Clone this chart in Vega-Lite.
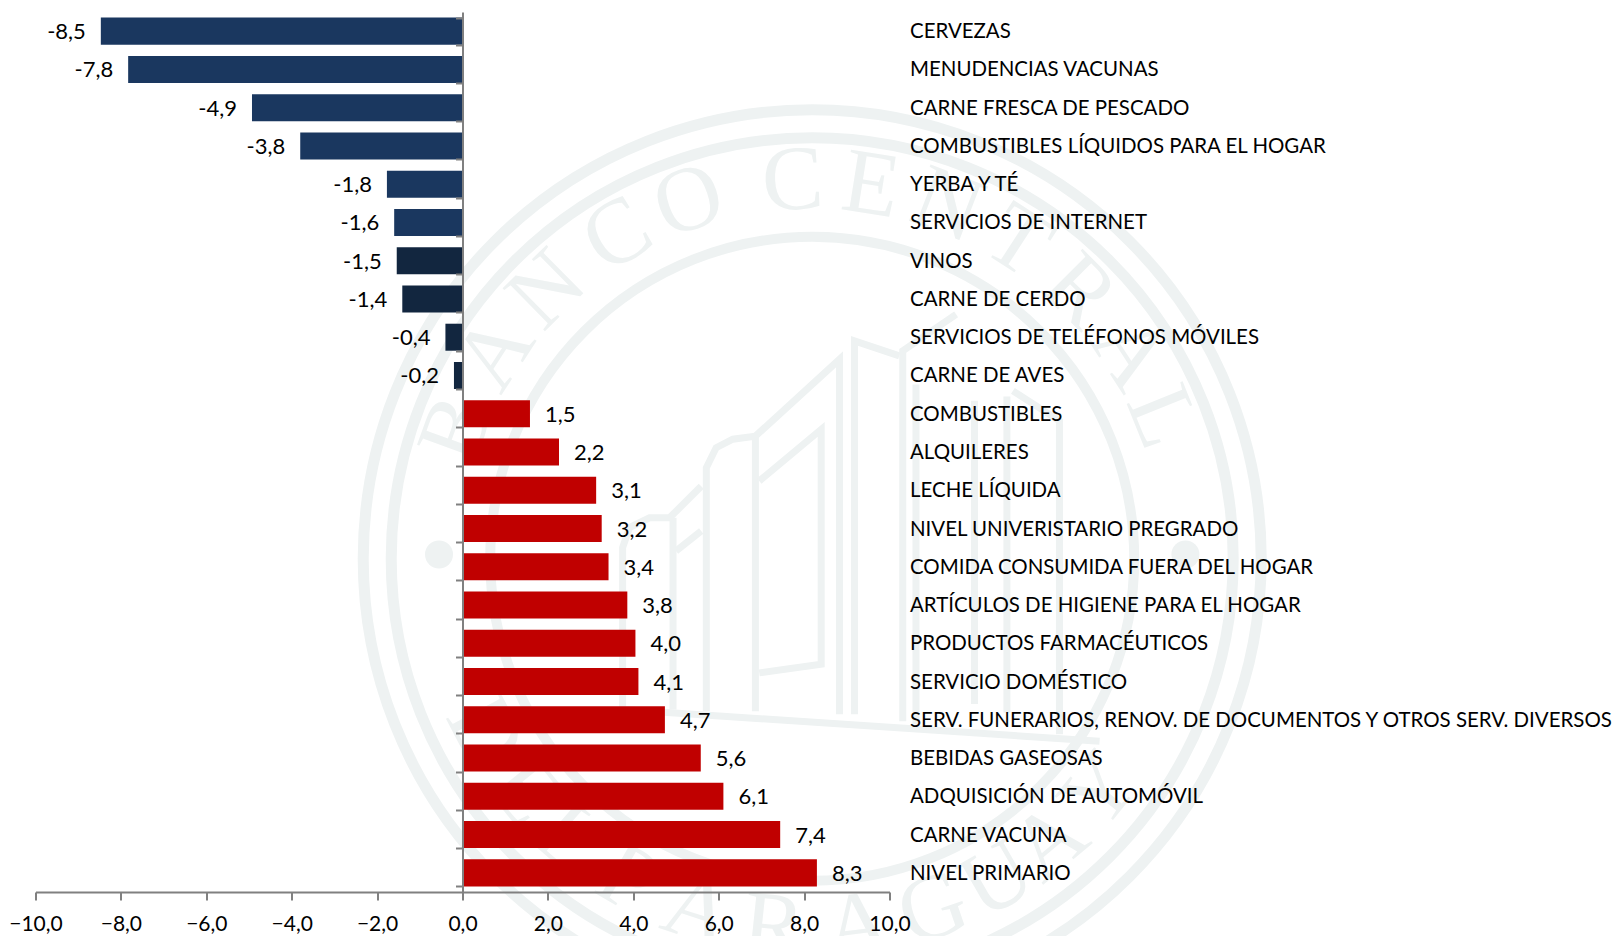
{
"$schema":"https://vega.github.io/schema/vega-lite/v6.json",
"autosize":{"type":"none"},
"padding":{"left":35.5,"top":12,"right":725.5,"bottom":44},
"width":854,"height":880,
"background":"#ffffff",
"config":{"view":{"stroke":null},"font":"Lato"},
"datasets":{
"items":[
{"cat":"CERVEZAS","v":-8.47,"t":"-8,5","g":"a"},
{"cat":"MENUDENCIAS VACUNAS","v":-7.83,"t":"-7,8","g":"a"},
{"cat":"CARNE FRESCA DE PESCADO","v":-4.93,"t":"-4,9","g":"a"},
{"cat":"COMBUSTIBLES LÍQUIDOS PARA EL HOGAR","v":-3.8,"t":"-3,8","g":"a"},
{"cat":"YERBA Y TÉ","v":-1.77,"t":"-1,8","g":"a"},
{"cat":"SERVICIOS DE INTERNET","v":-1.6,"t":"-1,6","g":"a"},
{"cat":"VINOS","v":-1.54,"t":"-1,5","g":"b"},
{"cat":"CARNE DE CERDO","v":-1.41,"t":"-1,4","g":"b"},
{"cat":"SERVICIOS DE TELÉFONOS MÓVILES","v":-0.4,"t":"-0,4","g":"b"},
{"cat":"CARNE DE AVES","v":-0.2,"t":"-0,2","g":"b"},
{"cat":"COMBUSTIBLES","v":1.58,"t":"1,5","g":"c"},
{"cat":"ALQUILERES","v":2.26,"t":"2,2","g":"c"},
{"cat":"LECHE LÍQUIDA","v":3.13,"t":"3,1","g":"c"},
{"cat":"NIVEL UNIVERISTARIO PREGRADO","v":3.26,"t":"3,2","g":"c"},
{"cat":"COMIDA CONSUMIDA FUERA DEL HOGAR","v":3.42,"t":"3,4","g":"c"},
{"cat":"ARTÍCULOS DE HIGIENE PARA EL HOGAR","v":3.86,"t":"3,8","g":"c"},
{"cat":"PRODUCTOS FARMACÉUTICOS","v":4.05,"t":"4,0","g":"c"},
{"cat":"SERVICIO DOMÉSTICO","v":4.12,"t":"4,1","g":"c"},
{"cat":"SERV. FUNERARIOS, RENOV. DE DOCUMENTOS Y OTROS SERV. DIVERSOS","v":4.74,"t":"4,7","g":"c"},
{"cat":"BEBIDAS GASEOSAS","v":5.58,"t":"5,6","g":"c"},
{"cat":"ADQUISICIÓN DE AUTOMÓVIL","v":6.11,"t":"6,1","g":"c"},
{"cat":"CARNE VACUNA","v":7.44,"t":"7,4","g":"c"},
{"cat":"NIVEL PRIMARIO","v":8.3,"t":"8,3","g":"c"}
],
"sello":[{"x":8.19,"y":-2.5}],
"puntos":[{"x":-0.55,"y":-2.4},{"x":16.93,"y":-2.4}],
"letras":[
{"l":"B","x":-0.13,"y":0.53,"a":-70},{"l":"A","x":0.77,"y":2.32,"a":-57},{"l":"N","x":1.98,"y":3.8,"a":-44.6},{"l":"C","x":3.63,"y":5.08,"a":-31},{"l":"O","x":5.3,"y":5.87,"a":-19},
{"l":"C","x":7.73,"y":6.34,"a":-3},{"l":"E","x":9.57,"y":6.24,"a":9},{"l":"N","x":11.36,"y":5.77,"a":21},{"l":"T","x":13.01,"y":4.93,"a":33},{"l":"R","x":14.45,"y":3.76,"a":45},{"l":"A","x":15.62,"y":2.32,"a":57},{"l":"L","x":16.39,"y":0.82,"a":68},
{"l":"D","x":0.53,"y":-6.57,"a":62},{"l":"E","x":1.45,"y":-7.95,"a":51},{"l":"L","x":2.5,"y":-9.05,"a":41},
{"l":"P","x":3.86,"y":-10.01,"a":30},{"l":"A","x":5.51,"y":-10.75,"a":18},{"l":"R","x":7.28,"y":-11.13,"a":6},{"l":"A","x":9.25,"y":-11.11,"a":-7},{"l":"G","x":11.02,"y":-10.7,"a":-19},{"l":"U","x":12.53,"y":-10.01,"a":-30},{"l":"A","x":13.76,"y":-9.14,"a":-40},{"l":"Y","x":14.93,"y":-7.95,"a":-51}
],
"edificio":[
{"k":1,"o":1,"x":5.71,"y":-6.07},{"k":1,"o":2,"x":5.71,"y":-0.37},{"k":1,"o":3,"x":5.94,"y":0.1},{"k":1,"o":4,"x":6.33,"y":0.3},{"k":1,"o":5,"x":6.86,"y":0.37},{"k":1,"o":6,"x":8.83,"y":2.17},{"k":1,"o":7,"x":8.83,"y":-6.14},
{"k":2,"o":1,"x":6.86,"y":0.37},{"k":2,"o":2,"x":6.86,"y":-6.07},
{"k":3,"o":1,"x":6.95,"y":-0.68},{"k":3,"o":2,"x":8.4,"y":0.53},{"k":3,"o":3,"x":8.4,"y":-4.97},{"k":3,"o":4,"x":6.95,"y":-5.17},
{"k":4,"o":1,"x":3.75,"y":-5.99},{"k":4,"o":2,"x":3.75,"y":-2.24},{"k":4,"o":3,"x":3.91,"y":-1.77},{"k":4,"o":4,"x":4.38,"y":-1.54},{"k":4,"o":5,"x":4.85,"y":-1.54},{"k":4,"o":6,"x":5.59,"y":-0.8},
{"k":5,"o":1,"x":4.93,"y":-1.54},{"k":5,"o":2,"x":4.93,"y":-6.03},
{"k":6,"o":1,"x":5.0,"y":-2.32},{"k":6,"o":2,"x":5.59,"y":-1.85},
{"k":7,"o":1,"x":3.75,"y":-6.03},{"k":7,"o":2,"x":14.92,"y":-6.77},
{"k":8,"o":1,"x":9.18,"y":-6.14},{"k":8,"o":2,"x":9.18,"y":2.6},{"k":8,"o":3,"x":10.23,"y":2.25},
{"k":9,"o":1,"x":10.31,"y":-6.3},{"k":9,"o":2,"x":10.31,"y":2.37},{"k":9,"o":3,"x":11.56,"y":3.22},
{"k":10,"o":1,"x":10.62,"y":-6.38},{"k":10,"o":2,"x":10.62,"y":1.58},
{"k":11,"o":1,"x":12.89,"y":1.43},{"k":11,"o":2,"x":13.98,"y":0.73},{"k":11,"o":3,"x":13.98,"y":-6.61},
{"k":12,"o":1,"x":11.99,"y":-5.9},{"k":12,"o":2,"x":11.99,"y":1.2},
{"k":13,"o":1,"x":12.75,"y":-6.1},{"k":13,"o":2,"x":12.75,"y":1.3}
]
},
"encoding":{"x":{"field":"x","type":"quantitative","title":null,"scale":{"domain":[-10,10],"nice":false,"zero":false},
 "axis":{"orient":"bottom","title":null,"values":[-10,-8,-6,-4,-2,0,2,4,6,8,10],"labelExpr":"replace(format(datum.value,'.1f'),'.',',')","domain":true,"domainColor":"#808080","domainWidth":2,"ticks":true,"tickColor":"#808080","tickWidth":2,"tickSize":8,"grid":false,"labelFont":"Lato","labelFontSize":21,"labelColor":"#000000","labelPadding":13,"labelFlush":false,"labelOverlap":false,"zindex":1}}},
"layer":[
{"data":{"name":"sello"},"mark":{"type":"point","shape":"circle","filled":false,"stroke":"#eef2f2","strokeWidth":11,"size":806404,"opacity":1},
 "encoding":{"y":{"field":"y","type":"quantitative","scale":{"domain":[-10.3,10.3],"nice":false,"zero":false},"axis":null}}},
{"data":{"name":"sello"},"mark":{"type":"point","shape":"circle","filled":false,"stroke":"#eef2f2","strokeWidth":11,"size":708964,"opacity":1},
 "encoding":{"y":{"field":"y","type":"quantitative","scale":{"domain":[-10.3,10.3],"nice":false,"zero":false},"axis":null}}},
{"data":{"name":"sello"},"mark":{"type":"point","shape":"circle","filled":false,"stroke":"#eef2f2","strokeWidth":10,"size":414736,"opacity":1},
 "encoding":{"y":{"field":"y","type":"quantitative","scale":{"domain":[-10.3,10.3],"nice":false,"zero":false},"axis":null}}},
{"data":{"name":"puntos"},"mark":{"type":"point","shape":"circle","filled":true,"fill":"#eef2f2","size":784,"opacity":1},
 "encoding":{"y":{"field":"y","type":"quantitative","scale":{"domain":[-10.3,10.3],"nice":false,"zero":false},"axis":null}}},
{"data":{"name":"letras"},"mark":{"type":"text","font":"Liberation Serif","fontSize":92,"fill":"#eef2f2","align":"center","baseline":"middle"},
 "encoding":{"y":{"field":"y","type":"quantitative","scale":{"domain":[-10.3,10.3],"nice":false,"zero":false},"axis":null},"text":{"field":"l"},"angle":{"field":"a","type":"quantitative","scale":null}}},
{"data":{"name":"edificio"},"mark":{"type":"line","stroke":"#eef2f2","strokeWidth":7,"interpolate":"linear"},
 "encoding":{"y":{"field":"y","type":"quantitative","scale":{"domain":[-10.3,10.3],"nice":false,"zero":false},"axis":null},"detail":{"field":"k"},"order":{"field":"o"}}},
{"data":{"name":"items"},
 "encoding":{"y":{"field":"cat","type":"nominal","sort":null,"scale":{"paddingInner":0.294,"paddingOuter":0.147},
   "axis":{"orient":"left","offset":-427,"title":null,"labels":false,"domain":true,"domainColor":"#808080","domainWidth":2,"ticks":true,"tickColor":"#808080","tickWidth":2,"tickSize":7,"tickBand":"extent","grid":false,"zindex":1}}},
 "layer":[
  {"mark":{"type":"bar","orient":"horizontal"},"encoding":{"x":{"field":"v","type":"quantitative","title":null},
    "color":{"field":"g","type":"nominal","legend":null,"scale":{"domain":["a","b","c"],"range":["#1a375f","#12263f","#c00000"]}}}},
  {"transform":[{"filter":"datum.v<0"}],"mark":{"type":"text","align":"right","baseline":"middle","dx":-15,"dy":1,"font":"Lato","fontSize":22,"fill":"#000000"},"encoding":{"x":{"field":"v","type":"quantitative","title":null},"text":{"field":"t"}}},
  {"transform":[{"filter":"datum.v>0"}],"mark":{"type":"text","align":"left","baseline":"middle","dx":15,"dy":1,"font":"Lato","fontSize":22,"fill":"#000000"},"encoding":{"x":{"field":"v","type":"quantitative","title":null},"text":{"field":"t"}}}
 ]},
{"data":{"name":"items"},"mark":{"type":"tick","opacity":0},
 "encoding":{"x":{"field":"v","type":"quantitative","title":null},"y":{"field":"cat","type":"nominal","sort":null,
   "axis":{"orient":"right","title":null,"domain":false,"ticks":false,"grid":false,"labelPadding":20,"labelAlign":"left","labelFont":"Lato","labelFontSize":20.45,"labelColor":"#000000","labelLimit":0,"labelOverlap":false,"labelOffset":1,"zindex":2}}}}
],
"resolve":{"scale":{"y":"independent"},"axis":{"y":"independent"}}
}
